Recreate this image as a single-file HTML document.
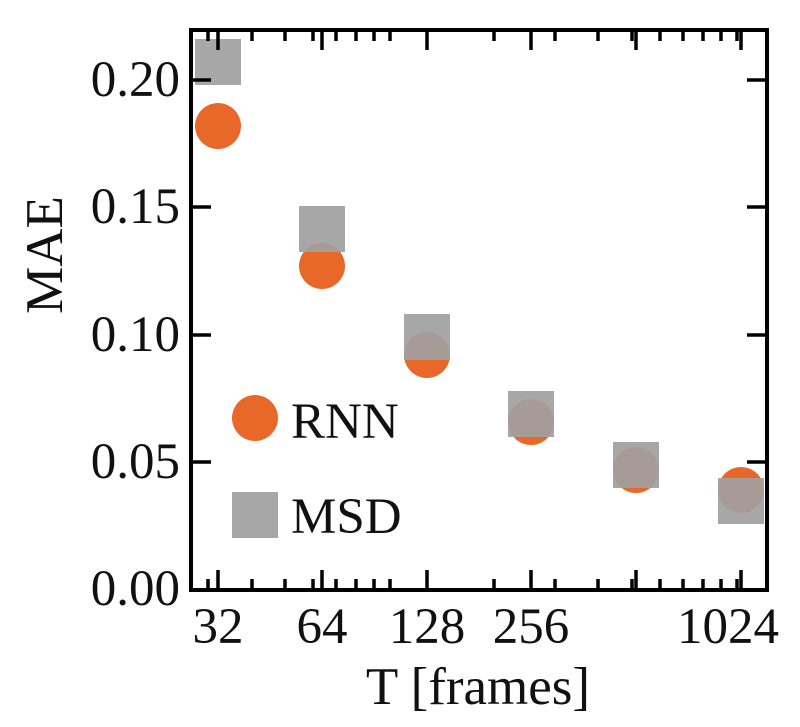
<!DOCTYPE html>
<html><head><style>html,body{margin:0;padding:0;background:#fff}svg{display:block}text{font-family:"Liberation Serif",serif;fill:#111}</style></head>
<body>
<svg width="800" height="727" viewBox="0 0 800 727" xmlns="http://www.w3.org/2000/svg">
<g fill="#e8682a">
<circle cx="218" cy="126" r="23"/><circle cx="322" cy="266" r="23"/><circle cx="427" cy="355" r="23"/>
<circle cx="531" cy="422" r="23"/><circle cx="636" cy="470" r="23"/><circle cx="741" cy="490" r="23"/>
<circle cx="255" cy="418" r="23"/>
</g>
<g fill="rgb(160,160,160)" fill-opacity="0.92">
<rect x="195" y="39" width="46" height="46"/><rect x="299" y="206" width="46" height="46"/>
<rect x="404" y="314" width="46" height="46"/><rect x="508" y="391" width="46" height="46"/>
<rect x="613" y="442" width="46" height="46"/><rect x="718" y="478" width="46" height="46"/>
<rect x="232" y="492" width="46" height="46"/>
</g>
<rect x="191" y="30" width="576" height="560" fill="none" stroke="#000" stroke-width="4"/>
<g stroke="#000" stroke-width="3.5">
<path d="M191 462h20M191 335h20M191 207h20M191 80h20M767 462h-20M767 335h-20M767 207h-20M767 80h-20"/>
<path d="M218 590v-20M322 590v-20M427 590v-20M531 590v-20M636 590v-20M741 590v-20M218 30v20M322 30v20M427 30v20M531 30v20M636 30v20M741 30v20"/>
<path d="M208 590v-11M252 590v-11M285 590v-11M313 590v-11M336 590v-11M356 590v-11M374 590v-11M390 590v-11M494 590v-11M555 590v-11M598 590v-11M632 590v-11M660 590v-11M683 590v-11M703 590v-11M721 590v-11M737 590v-11
M208 30v11M252 30v11M285 30v11M313 30v11M336 30v11M356 30v11M374 30v11M390 30v11M494 30v11M555 30v11M598 30v11M632 30v11M660 30v11M683 30v11M703 30v11M721 30v11M737 30v11"/>
</g>
<g font-size="51" text-anchor="end">
<text x="180" y="605">0.00</text><text x="180" y="478">0.05</text><text x="180" y="351">0.10</text><text x="180" y="223">0.15</text><text x="180" y="96">0.20</text>
</g>
<g font-size="51" text-anchor="middle">
<text x="218" y="643">32</text><text x="322" y="643">64</text><text x="427" y="643">128</text><text x="531" y="643">256</text><text x="728" y="643">1024</text>
<text x="478" y="704" font-size="53">T [frames]</text>
<text transform="translate(62,255) rotate(-90)" font-size="53">MAE</text>
</g>
<g font-size="51"><text x="291" y="438">RNN</text><text x="291" y="533">MSD</text></g>
</svg>
</body></html>
